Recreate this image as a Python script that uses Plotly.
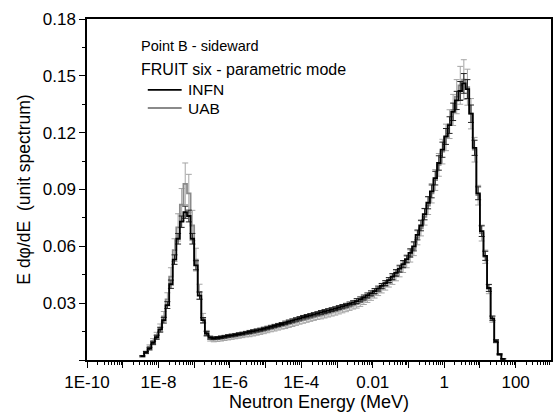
import numpy as np
import plotly.graph_objects as go

# Energy bin grid: 10 bins per decade, starting at 3.16E-9 MeV
first_edge_log = -8.5
n_bins = 102

infn = [0.002, 0.004, 0.006, 0.009, 0.012, 0.016, 0.021, 0.029, 0.040, 0.053,
        0.064, 0.073, 0.078, 0.076, 0.064, 0.050, 0.034, 0.021, 0.014, 0.0118,
        0.0115, 0.0117, 0.0120, 0.0123, 0.0127, 0.0130, 0.0133, 0.0137, 0.0140, 0.0144,
        0.0148, 0.0152, 0.0156, 0.0160, 0.0165, 0.0170, 0.0175, 0.0180, 0.0185, 0.0190,
        0.0196, 0.0202, 0.0208, 0.0214, 0.0220, 0.0226, 0.0231, 0.0236, 0.0241, 0.0246,
        0.0251, 0.0256, 0.0261, 0.0266, 0.0271, 0.0277, 0.0283, 0.0289, 0.0296, 0.0303,
        0.0311, 0.0320, 0.0330, 0.0341, 0.0352, 0.0364, 0.0377, 0.0391, 0.0406, 0.0422,
        0.0440, 0.0460, 0.0482, 0.0506, 0.0533, 0.0565, 0.0600, 0.0660, 0.0710, 0.0770,
        0.0830, 0.0890, 0.0960, 0.1040, 0.1110, 0.1180, 0.1240, 0.1310, 0.1370, 0.1420,
        0.1460, 0.1430, 0.1300, 0.1120, 0.0880, 0.0680, 0.0550, 0.0380, 0.0220, 0.0100,
        0.0030, 0.0006]

infn_err = [0.0003, 0.0005, 0.0007, 0.0009, 0.0011, 0.0013, 0.0015, 0.0018, 0.0022, 0.0025,
            0.0028, 0.0030, 0.0032, 0.0031, 0.0028, 0.0024, 0.0019, 0.0014, 0.0010, 0.0008,
            0.0007, 0.0007, 0.0007, 0.0007, 0.0007, 0.0007, 0.0007, 0.0007, 0.0007, 0.0007,
            0.0008, 0.0008, 0.0008, 0.0008, 0.0008, 0.0008, 0.0008, 0.0008, 0.0008, 0.0008,
            0.0009, 0.0009, 0.0009, 0.0009, 0.0009, 0.0009, 0.0009, 0.0009, 0.0009, 0.0009,
            0.0010, 0.0010, 0.0010, 0.0010, 0.0010, 0.0010, 0.0010, 0.0010, 0.0010, 0.0010,
            0.0013, 0.0013, 0.0013, 0.0013, 0.0013, 0.0013, 0.0013, 0.0013, 0.0013, 0.0013,
            0.0016, 0.0017, 0.0018, 0.0019, 0.0020, 0.0022, 0.0024, 0.0026, 0.0028, 0.0030,
            0.0032, 0.0034, 0.0036, 0.0038, 0.0040, 0.0042, 0.0044, 0.0046, 0.0048, 0.0050,
            0.0052, 0.0050, 0.0046, 0.0040, 0.0034, 0.0028, 0.0024, 0.0018, 0.0012, 0.0007,
            0.0003, 0.0001]

uab = [0.002, 0.004, 0.007, 0.010, 0.013, 0.017, 0.023, 0.032, 0.044, 0.058,
       0.070, 0.082, 0.093, 0.088, 0.071, 0.053, 0.036, 0.022, 0.014, 0.0112,
       0.0108, 0.0110, 0.0112, 0.0115, 0.0118, 0.0121, 0.0124, 0.0127, 0.0130, 0.0134,
       0.0137, 0.0141, 0.0145, 0.0149, 0.0153, 0.0158, 0.0163, 0.0167, 0.0172, 0.0177,
       0.0182, 0.0188, 0.0193, 0.0199, 0.0205, 0.0210, 0.0215, 0.0220, 0.0225, 0.0230,
       0.0235, 0.0240, 0.0245, 0.0250, 0.0255, 0.0261, 0.0267, 0.0273, 0.0280, 0.0287,
       0.0295, 0.0304, 0.0314, 0.0325, 0.0336, 0.0348, 0.0361, 0.0375, 0.0390, 0.0406,
       0.0424, 0.0444, 0.0466, 0.0490, 0.0517, 0.0549, 0.0585, 0.0645, 0.0695, 0.0755,
       0.0815, 0.0880, 0.0950, 0.1030, 0.1100, 0.1175, 0.1245, 0.1320, 0.1390, 0.1450,
       0.1480, 0.1440, 0.1300, 0.1110, 0.0870, 0.0670, 0.0545, 0.0375, 0.0215, 0.0098,
       0.0030, 0.0006]

uab_err = [0.0004, 0.0007, 0.0010, 0.0013, 0.0016, 0.0020, 0.0026, 0.0035, 0.0047, 0.0060,
           0.0072, 0.0085, 0.0110, 0.0100, 0.0080, 0.0060, 0.0040, 0.0026, 0.0016, 0.0012,
           0.0012, 0.0012, 0.0012, 0.0012, 0.0012, 0.0012, 0.0012, 0.0012, 0.0012, 0.0012,
           0.0014, 0.0014, 0.0014, 0.0014, 0.0014, 0.0014, 0.0014, 0.0014, 0.0014, 0.0014,
           0.0016, 0.0016, 0.0016, 0.0016, 0.0016, 0.0016, 0.0016, 0.0016, 0.0016, 0.0016,
           0.0018, 0.0018, 0.0018, 0.0018, 0.0018, 0.0018, 0.0018, 0.0018, 0.0018, 0.0018,
           0.0021, 0.0021, 0.0021, 0.0021, 0.0021, 0.0021, 0.0021, 0.0021, 0.0021, 0.0021,
           0.0025, 0.0026, 0.0027, 0.0028, 0.0030, 0.0032, 0.0034, 0.0037, 0.0040, 0.0043,
           0.0047, 0.0051, 0.0055, 0.0060, 0.0065, 0.0070, 0.0076, 0.0082, 0.0090, 0.0100,
           0.0105, 0.0095, 0.0080, 0.0065, 0.0052, 0.0042, 0.0035, 0.0025, 0.0016, 0.0008,
           0.0003, 0.0001]

x_tick_vals = [1e-10, 1e-8, 1e-6, 1e-4, 1e-2, 1, 100]
x_tick_text = ["1E-10", "1E-8", "1E-6", "1E-4", "0.01", "1", "100"]
y_tick_vals = [0, 0.03, 0.06, 0.09, 0.12, 0.15, 0.18]
y_tick_text = ["", "0.03", "0.06", "0.09", "0.12", "0.15", "0.18"]

# ---- bin edges / centres ----
edges_log = [first_edge_log + 0.1 * i for i in range(n_bins + 1)]
edges = [10 ** e for e in edges_log]
centres = [10 ** (e + 0.05) for e in edges_log[:-1]]

def step_y(vals):
    return list(vals) + [vals[-1]]

# major ticks every decade (labels every 2nd), minor ticks 2..9
label_map = {int(round(np.log10(v))): t for v, t in zip(x_tick_vals, x_tick_text)}
major_vals = [10.0 ** d for d in range(-10, 4)]
major_text = [label_map.get(d, "") for d in range(-10, 4)]
minor_vals = [m * 10.0 ** d for d in range(-10, 3) for m in range(2, 10)]

fig = go.Figure()

grey = "#8a8a8a"
fig.add_trace(go.Scatter(x=centres, y=uab, mode="markers", marker=dict(size=0.1, color=grey),
                         error_y=dict(type="data", array=uab_err, color="#a5a5a5", thickness=1, width=3),
                         showlegend=False, hoverinfo="skip"))
fig.add_trace(go.Scatter(x=edges, y=step_y(uab), mode="lines",
                         line=dict(shape="hv", color=grey, width=1.8), name="UAB", showlegend=False))
fig.add_trace(go.Scatter(x=centres, y=infn, mode="markers", marker=dict(size=0.1, color="black"),
                         error_y=dict(type="data", array=infn_err, color="#222222", thickness=1, width=3),
                         showlegend=False, hoverinfo="skip"))
fig.add_trace(go.Scatter(x=edges, y=step_y(infn), mode="lines",
                         line=dict(shape="hv", color="black", width=1.8), name="INFN", showlegend=False))

font_family = "Liberation Sans, Arial, sans-serif"

# legend drawn as text + line samples (paper coordinates)
leg = [("INFN", "black", 0.792), ("UAB", grey, 0.739)]
shapes = [dict(type="line", xref="paper", yref="paper", x0=0.131, x1=0.204, y0=yy, y1=yy,
               line=dict(color=c, width=1.8)) for _, c, yy in leg]
annots = [dict(text=n, x=0.213, y=yy, xref="paper", yref="paper", xanchor="left", yanchor="middle",
               showarrow=False, font=dict(size=15.5)) for n, _, yy in leg]
annots += [
    dict(text="Point B - sideward", x=0.113, y=0.922, xref="paper", yref="paper",
         xanchor="left", yanchor="middle", showarrow=False, font=dict(size=14.5)),
    dict(text="FRUIT six - parametric mode", x=0.113, y=0.853, xref="paper", yref="paper",
         xanchor="left", yanchor="middle", showarrow=False, font=dict(size=16)),
]

fig.update_layout(
    width=555, height=414,
    margin=dict(l=87, r=2, t=19, b=54),
    paper_bgcolor="white", plot_bgcolor="white",
    font=dict(family=font_family, color="black", size=17),
    showlegend=False,
    xaxis=dict(type="log", range=[-10, 2.99],
               tickmode="array", tickvals=major_vals, ticktext=major_text,
               ticks="outside", ticklen=6, tickwidth=1.2, tickcolor="black",
               minor=dict(tickmode="array", tickvals=minor_vals, ticks="outside", ticklen=3,
                          tickwidth=1, tickcolor="black", showgrid=False),
               showline=True, linecolor="black", linewidth=1.5, mirror=True,
               showgrid=False, zeroline=False,
               title=dict(text="Neutron Energy (MeV)", standoff=2, font=dict(size=18)),
               tickfont=dict(size=17)),
    yaxis=dict(range=[0, 0.18], tickmode="array", tickvals=y_tick_vals, ticktext=y_tick_text,
               ticks="outside", ticklen=6, tickwidth=1.2, tickcolor="black",
               minor=dict(dtick=0.015, tick0=0, ticks="outside", ticklen=3, tickwidth=1,
                          tickcolor="black", showgrid=False),
               showline=True, linecolor="black", linewidth=1.5, mirror=True,
               showgrid=False, zeroline=False,
               title=dict(text="E d\u03c6/dE  (unit spectrum)", standoff=8, font=dict(size=17.5)),
               tickfont=dict(size=17)),
    shapes=shapes,
    annotations=annots,
)

fig.write_html("out.html")
